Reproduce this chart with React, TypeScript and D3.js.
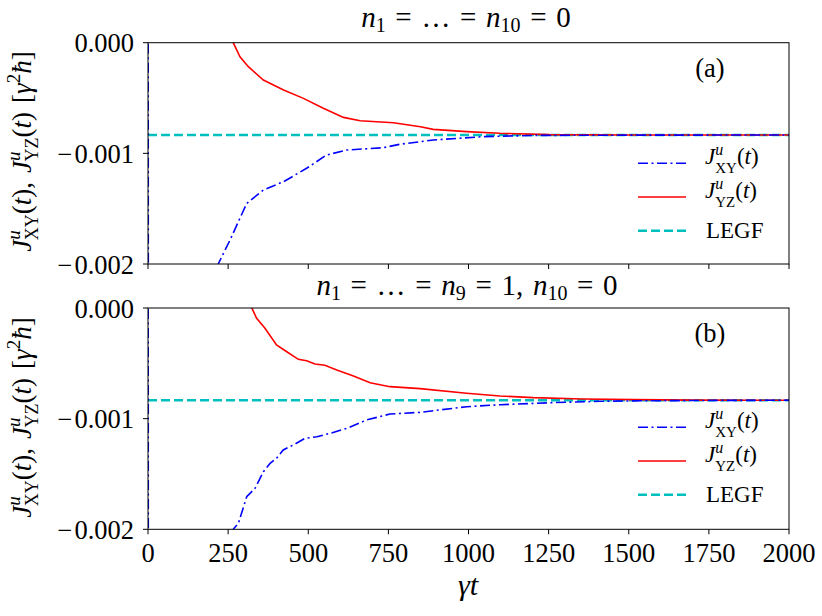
import React from 'react';
import * as d3 from 'd3';

// gamma*t samples and J values (units of gamma^2 hbar)
const legf = -0.000834;

const xyA: [number, number][] = [
  [0, 0.006], [2, -0.012], [220, -0.001994], [256, -0.001783], [308, -0.001452], [360, -0.001331],
  [423, -0.001256], [495, -0.001135], [557, -0.001015], [620, -0.00097], [734, -0.000949],
  [786, -0.000918], [849, -0.000895], [890, -0.000879], [1046, -0.000849], [1202, -0.000838],
  [1400, -0.000836], [1700, -0.000835], [2000, -0.000834],
];
const yzA: [number, number][] = [
  [0, 0.012], [266, 0], [287, -0.000127], [313, -0.000217], [360, -0.000337],
  [423, -0.000427], [485, -0.000503], [547, -0.000593], [610, -0.000675], [662, -0.000705],
  [766, -0.000723], [850, -0.000759], [890, -0.000783], [994, -0.000804], [1098, -0.000819],
  [1254, -0.000831], [1500, -0.000834], [2000, -0.000834],
];
const xyB: [number, number][] = [
  [0, 0.006], [2, -0.012], [266, -0.002], [282, -0.001946], [308, -0.001705], [334, -0.00163],
  [360, -0.00148], [381, -0.001404], [401, -0.001358], [422, -0.001283], [453, -0.001238],
  [490, -0.001178], [527, -0.001163], [568, -0.001133], [620, -0.001088], [682, -0.001012],
  [755, -0.000958], [849, -0.000943], [890, -0.000928], [994, -0.000892], [1098, -0.000874],
  [1254, -0.000856], [1410, -0.000843], [1566, -0.000838], [1800, -0.000835], [2000, -0.000834],
];
const yzB: [number, number][] = [
  [0, 0.012], [324, 0], [339, -0.000093], [365, -0.000183], [401, -0.000334],
  [433, -0.000395], [469, -0.000464], [495, -0.000476], [521, -0.000506], [552, -0.000518],
  [589, -0.00056], [641, -0.000615], [693, -0.000675], [755, -0.000711], [849, -0.000729],
  [994, -0.000771], [1098, -0.000795], [1202, -0.00081], [1358, -0.000822], [1514, -0.000828],
  [1700, -0.000833], [2000, -0.000834],
];

const xTicks = [0, 250, 500, 750, 1000, 1250, 1500, 1750, 2000];
const yTicks = [0, -0.001, -0.002];
const yTickLabels = ['0.000', '0.001', '0.002'];

const W = 822;
const H = 616;
const left = 148;
const right = 789;
const serif = { fontFamily: '"Liberation Serif"' };
const sp = '\u2004';

const x = d3.scaleLinear().domain([0, 2000]).range([left, right]);

const YLabel: React.FC<{ cy: number }> = ({ cy }) => (
  <text transform={`translate(31,${cy}) rotate(-90)`} textAnchor="middle" fontSize={27} style={serif}>
    <tspan fontStyle="italic">J</tspan>
    <tspan fontStyle="italic" fontSize={19} dy={-11}>u</tspan>
    <tspan fontSize={18} dx={-10} dy={18}>XY</tspan>
    <tspan dy={-7}>(</tspan><tspan fontStyle="italic">t</tspan><tspan>),{sp}</tspan>
    <tspan fontStyle="italic">J</tspan>
    <tspan fontStyle="italic" fontSize={19} dy={-11}>u</tspan>
    <tspan fontSize={18} dx={-10} dy={18}>YZ</tspan>
    <tspan dy={-7}>(</tspan><tspan fontStyle="italic">t</tspan><tspan>){sp}[</tspan>
    <tspan fontStyle="italic">γ</tspan>
    <tspan fontSize={19} dy={-11}>2</tspan>
    <tspan fontStyle="italic" dy={11}>ħ</tspan>
    <tspan>]</tspan>
  </text>
);

const Legend: React.FC<{ y0: number }> = ({ y0 }) => {
  const rows = [
    { name: 'XY', color: '#0000ff', dash: '10,3.5,2,3.5', w: 1.6 },
    { name: 'YZ', color: '#ff0000', dash: 'none', w: 1.6 },
    { name: 'LEGF', color: '#00bfbf', dash: '9,4', w: 2.4 },
  ];
  return (
    <g>
      {rows.map((r, i) => {
        const yy = y0 + i * 33.7;
        return (
          <g key={r.name}>
            <line x1={638} x2={686} y1={yy} y2={yy} stroke={r.color} strokeWidth={r.w} strokeDasharray={r.dash} />
            {r.name === 'LEGF' ? (
              <text x={706} y={yy + 7} fontSize={23} style={serif}>LEGF</text>
            ) : (
              <text x={705} y={yy} fontSize={23} style={serif}>
                <tspan fontStyle="italic" dy={1}>J</tspan>
                <tspan fontStyle="italic" fontSize={16} dy={-9}>u</tspan>
                <tspan fontSize={15} dx={-8} dy={18}>{r.name}</tspan>
                <tspan dy={-9}>(</tspan><tspan fontStyle="italic">t</tspan><tspan>)</tspan>
              </text>
            )}
          </g>
        );
      })}
    </g>
  );
};

const Panel: React.FC<{
  top: number; bottom: number; xy: [number, number][]; yz: [number, number][];
  tag: string; showX: boolean; id: string; legendY: number;
}> = ({ top, bottom, xy, yz, tag, showX, id, legendY }) => {
  const y = d3.scaleLinear().domain([-0.002, 0]).range([bottom, top]);
  const line = d3.line<[number, number]>().x(d => x(d[0])).y(d => y(d[1]));
  return (
    <g>
      <defs>
        <clipPath id={id}><rect x={left} y={top} width={right - left} height={bottom - top} /></clipPath>
      </defs>
      <g clipPath={`url(#${id})`}>
        <line x1={x(0)} x2={x(2000)} y1={y(legf)} y2={y(legf)} stroke="#00bfbf" strokeWidth={2.4} strokeDasharray="9,4" />
        <path d={line(yz) || ''} fill="none" stroke="#ff0000" strokeWidth={1.6} />
        <path d={line(xy) || ''} fill="none" stroke="#0000ff" strokeWidth={1.6} strokeDasharray="10,3.5,2,3.5" />
      </g>
      <rect x={left} y={top} width={right - left} height={bottom - top} fill="none" stroke="#000" strokeWidth={1} />
      {xTicks.map(t => (
        <g key={t}>
          <line x1={x(t)} x2={x(t)} y1={bottom} y2={bottom + 5} stroke="#000" />
          {showX && (
            <text x={x(t)} y={bottom + 33} textAnchor="middle" fontSize={26.5} style={serif}>{t}</text>
          )}
        </g>
      ))}
      {yTicks.map((t, i) => (
        <g key={t}>
          <line x1={left - 5} x2={left} y1={y(t)} y2={y(t)} stroke="#000" />
          <text x={left - 14} y={y(t) + 9.5} textAnchor="end" fontSize={26.5} style={serif}>
            {t < 0 && <tspan>{'\u2212'}</tspan>}
            {t < 0 ? <tspan dx={2}>{yTickLabels[i]}</tspan> : yTickLabels[i]}
          </text>
        </g>
      ))}
      <text x={710} y={top + 34} textAnchor="middle" fontSize={26.5} style={serif}>{tag}</text>
      <Legend y0={legendY} />
    </g>
  );
};

const App: React.FC = () => (
  <svg width={W} height={H} style={{ display: 'block', position: 'absolute', left: 0, top: 0, background: '#fff' }}>
    <text x={466} y={27} textAnchor="middle" fontSize={29} style={serif}>
      <tspan fontStyle="italic">n</tspan><tspan fontSize={20} dy={5}>1</tspan>
      <tspan dy={-5}>{`${sp}=${sp}…${sp}=${sp}`}</tspan>
      <tspan fontStyle="italic">n</tspan><tspan fontSize={20} dy={5}>10</tspan>
      <tspan dy={-5}>{`${sp}=${sp}0`}</tspan>
    </text>
    <Panel top={42.7} bottom={264} xy={xyA} yz={yzA} tag="(a)" showX={false} id="clipA" legendY={163.3} />
    <text x={467} y={295} textAnchor="middle" fontSize={29} style={serif}>
      <tspan fontStyle="italic">n</tspan><tspan fontSize={20} dy={5}>1</tspan>
      <tspan dy={-5}>{`${sp}=${sp}…${sp}=${sp}`}</tspan>
      <tspan fontStyle="italic">n</tspan><tspan fontSize={20} dy={5}>9</tspan>
      <tspan dy={-5}>{`${sp}=${sp}1,${sp}`}</tspan>
      <tspan fontStyle="italic">n</tspan><tspan fontSize={20} dy={5}>10</tspan>
      <tspan dy={-5}>{`${sp}=${sp}0`}</tspan>
    </text>
    <Panel top={308} bottom={529.3} xy={xyB} yz={yzB} tag="(b)" showX={true} id="clipB" legendY={427.3} />
    <YLabel cy={151.5} />
    <YLabel cy={417.5} />
    <text x={468} y={595} textAnchor="middle" fontSize={30} style={serif}>
      <tspan fontStyle="italic">γt</tspan>
    </text>
  </svg>
);

export default App;
